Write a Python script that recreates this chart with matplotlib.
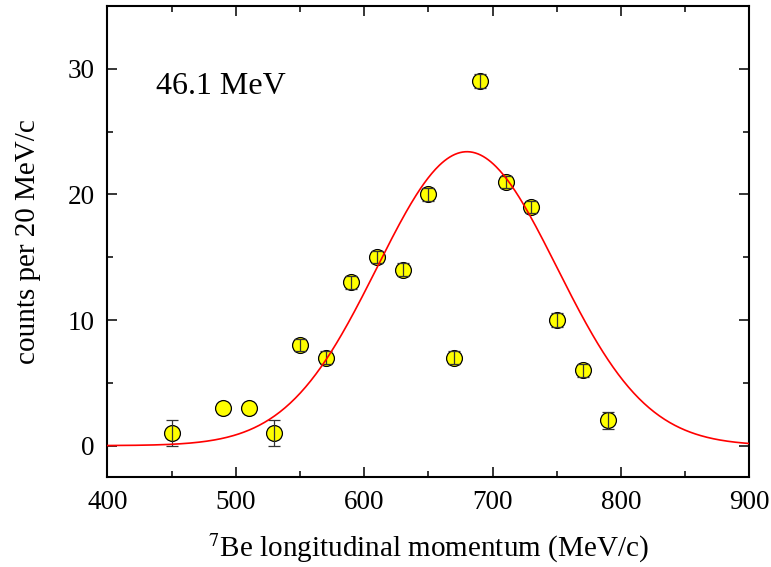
import matplotlib
matplotlib.use('Agg')
import matplotlib.pyplot as plt
from matplotlib.ticker import MultipleLocator
import numpy as np

# measured counts per 20 MeV/c bin
momentum = [450, 490, 510, 530, 550, 570, 590, 610, 630, 650, 670, 690, 710, 730, 750, 770, 790]
counts = [1, 3, 3, 1, 8, 7, 13, 15, 14, 20, 7, 29, 21, 19, 10, 6, 2]
count_err = [1.0, np.nan, np.nan, 1.0, 0.5, 0.5, 0.5, 0.5, 0.5, 0.5, 0.5, 0.55, 0.5, 0.5, 0.53, 0.52, 0.65]

# gaussian fit
fit_amp = 23.4
fit_center = 680.0
fit_sigma = 70.0

energy_label = '46.1 MeV'

plt.rcParams['font.family'] = ['Liberation Serif', 'DejaVu Serif']
plt.rcParams['mathtext.fontset'] = 'stix'

fig = plt.figure(figsize=(7.71, 5.67), dpi=100)
ax = fig.add_axes([0.1394, 0.1587, 0.8327, 0.8307])

p = np.linspace(400, 900, 500)
fit = fit_amp * np.exp(-(p - fit_center) ** 2 / (2 * fit_sigma ** 2))
ax.plot(p, fit, color='red', lw=1.2, zorder=5)

ax.plot(momentum, counts, 'o', ms=11.4, mfc='#ffff00', mec='black', mew=0.9, zorder=3)
ax.errorbar(momentum, counts, yerr=count_err, fmt='none', ecolor='#333333',
            elinewidth=0.9, capsize=4, capthick=0.9, zorder=4)

ax.text(438, 28.0, energy_label, fontsize=23, ha='left', va='baseline')

ax.set_xlim(400, 900)
ax.set_ylim(-2.5, 35)
ax.xaxis.set_major_locator(MultipleLocator(100))
ax.xaxis.set_minor_locator(MultipleLocator(50))
ax.yaxis.set_major_locator(MultipleLocator(10))
ax.yaxis.set_minor_locator(MultipleLocator(5))

ax.tick_params(which='both', direction='in', top=True, right=True, width=1.1, labelsize=19.5)
ax.tick_params(which='major', length=7, pad=9)
ax.tick_params(which='minor', length=4.5)
for s in ax.spines.values():
    s.set_linewidth(1.5)

ax.set_xlabel(r'$^{7}$Be longitudinal momentum (MeV/c)', fontsize=21, labelpad=12)
ax.set_ylabel('counts per 20 MeV/c', fontsize=21, labelpad=19)

fig.savefig('out.png', dpi=100)
